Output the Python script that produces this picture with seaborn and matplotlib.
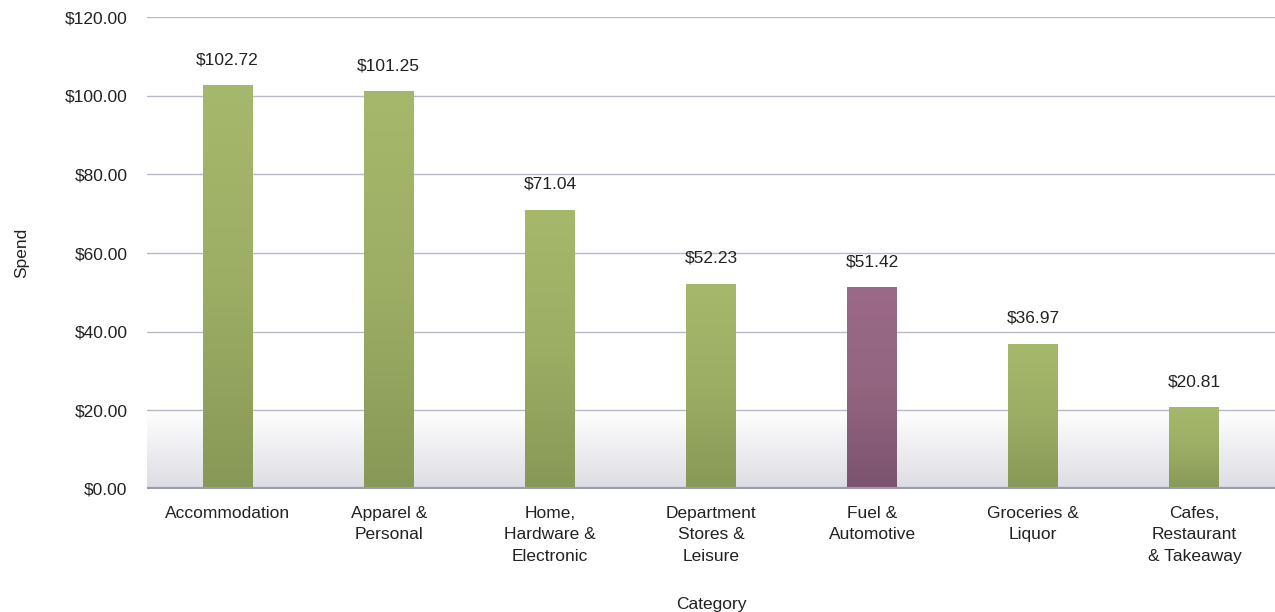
import numpy as np
import matplotlib
matplotlib.use("Agg")
import matplotlib.pyplot as plt
import seaborn as sns
from matplotlib.colors import LinearSegmentedColormap

# --- data ---
categories = ["Accommodation", "Apparel &\nPersonal", "Home,\nHardware &\nElectronic",
              "Department\nStores &\nLeisure", "Fuel &\nAutomotive", "Groceries &\nLiquor",
              "Cafes,\nRestaurant\n& Takeaway"]
spend = [102.72, 101.25, 71.04, 52.23, 51.42, 36.97, 20.81]
highlight = "Fuel &\nAutomotive"
yticks = [0, 20, 40, 60, 80, 100, 120]

sns.set_theme(style="white")
plt.rcParams['font.family'] = ['Liberation Sans', 'DejaVu Sans']

fig = plt.figure(figsize=(12.75, 6.12), dpi=100)
ax = fig.add_axes([0.1153, 0.201, 0.8847, 0.771])

palette = {c: ("#966683" if c == highlight else "#a2b468") for c in categories}
sns.barplot(x=categories, y=spend, hue=categories, palette=palette, legend=False,
            width=0.31, ax=ax, zorder=3, linewidth=0)

ax.set_xlim(-0.5, len(categories) - 0.5)
ax.set_ylim(0, 120)

# light gradient band at the bottom of the plot
band = np.linspace(0, 1, 100).reshape(-1, 1)
band_cmap = LinearSegmentedColormap.from_list("band", ["#dcdce3", "#ffffff"])
ax.imshow(band, cmap=band_cmap, aspect="auto", origin="lower",
          extent=[-0.5, len(categories) - 0.5, 0, 20], zorder=0)

# gradient fill on bars (mostly flat, darker near the base)
green_cmap = LinearSegmentedColormap.from_list("g", ["#889857", "#9cae64", "#a6b86b"])
purple_cmap = LinearSegmentedColormap.from_list("p", ["#7b5370", "#93657f", "#9a6a88"])
grad = np.linspace(0, 1, 256).reshape(-1, 1)
for bar, cat in zip(ax.patches, categories):
    x0, y0 = bar.get_x(), bar.get_y()
    w, h = bar.get_width(), bar.get_height()
    cmap = purple_cmap if cat == highlight else green_cmap
    im = ax.imshow(grad, cmap=cmap, aspect="auto", origin="lower",
                   extent=[x0, x0 + w, y0, y0 + h], zorder=4)
    im.set_clip_path(bar)
    ax.text(x0 + w / 2, h + 4.5, f"${h:.2f}", ha="center", va="bottom",
            fontsize=12.5, color="#222222", zorder=5)

ax.set_xlim(-0.5, len(categories) - 0.5)
ax.set_ylim(0, 120)

ax.set_yticks(yticks)
ax.set_yticklabels([f"${v:.2f}" for v in yticks])
for v in yticks[1:]:
    ax.axhline(v, color="#b9b9cc", lw=1, zorder=1)
ax.axhline(0, color="#9b9bae", lw=3, zorder=6)

for s in ax.spines.values():
    s.set_visible(False)
ax.tick_params(axis="both", length=0, labelsize=12.5, colors="#222222")
ax.tick_params(axis="x", pad=12)
ax.tick_params(axis="y", pad=14)
for lbl in ax.get_xticklabels():
    lbl.set_linespacing(1.55)

ax.set_xlabel("Category", fontsize=12.5, color="#222222", labelpad=24)
ax.set_ylabel("Spend", fontsize=12.5, color="#222222", labelpad=26)

fig.savefig("out.png", dpi=100)
